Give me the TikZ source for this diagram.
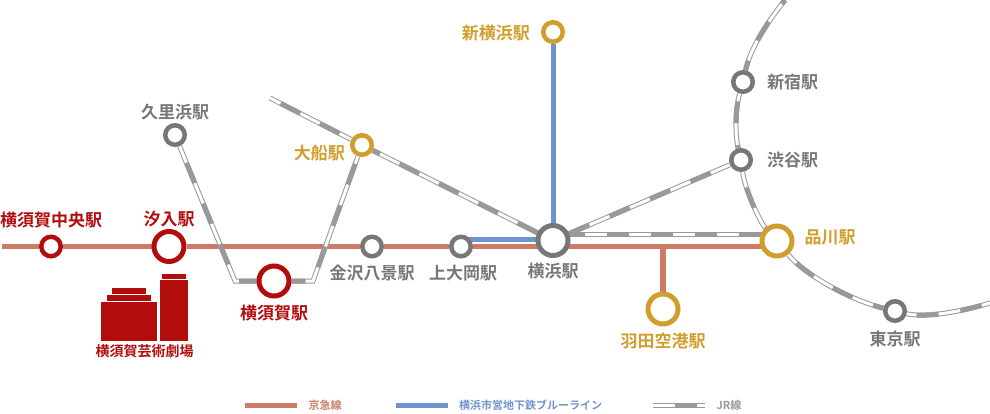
\documentclass[tikz,border=0pt]{standalone}
\usepackage{fontspec}
\setmainfont{Noto Sans CJK JP}[BoldFont={* Bold}]
\usepackage{xcolor}
\usetikzlibrary{positioning,backgrounds}
\definecolor{kqred}{HTML}{CC7B68}
\definecolor{subblue}{HTML}{7094CE}
\definecolor{jrgray}{HTML}{999999}
\definecolor{stred}{HTML}{B20C0C}
\definecolor{stgold}{HTML}{D19E2D}
\definecolor{stgray}{HTML}{777777}
\tikzset{
  stsmall/.style={circle, draw, fill=white, line width=4.5pt, inner sep=0pt, minimum size=19.5pt},
  stbig/.style={circle, draw, fill=white, line width=5pt, inner sep=0pt, minimum size=30pt},
  stname/.style={font=\fontsize{17}{18}\selectfont\bfseries, inner sep=0pt, node distance=8pt},
  legname/.style={font=\fontsize{11}{12}\selectfont\bfseries, inner sep=0pt},
  kqline/.style={draw=kqred, line width=5.5pt},
  blueline/.style={draw=subblue, line width=5pt},
  jrline/.style={preaction={draw=jrgray, solid, line width=5pt}, preaction={draw=white, solid, line width=3pt},
    draw=jrgray, line width=5pt, dash pattern=on 22pt off 22pt, dash phase=#1},
  jrline/.default=22pt,
  block/.style={fill=stred, draw=none},
}
\begin{document}
\begin{tikzpicture}[x=1pt, y=-1pt]
\useasboundingbox (0,0) rectangle (990,413);
% stations
\node[stsmall, draw=stred] (chuo) at (51,246.5) {};
\node[stbig, draw=stred] (shioiri) at (169,246.5) {};
\node[stbig, draw=stred] (yokosuka) at (274,281) {};
\node[stsmall, draw=stgray] (kanazawa) at (372,246.5) {};
\node[stsmall, draw=stgray] (kamiooka) at (461,246.5) {};
\node[stbig, draw=stgray] (yokohama) at (553,240.5) {};
\node[stbig, draw=stgold] (shinagawa) at (777,241) {};
\node[stbig, draw=stgold] (haneda) at (663,309) {};
\node[stsmall, draw=stgold] (shinyoko) at (553,32) {};
\node[stsmall, draw=stgold] (ofuna) at (362,145) {};
\node[stsmall, draw=stgray] (kurihama) at (175,135) {};
\node[stsmall, draw=stgray] (shinjuku) at (743,82) {};
\node[stsmall, draw=stgray] (shibuya) at (741,160) {};
\node[stsmall, draw=stgray] (tokyo) at (895,311) {};
% labels
\node[stname, stred, above=of chuo, yshift=-2pt] (chuoname) {横須賀中央駅};
\node[stname, stred, above=of shioiri, yshift=-6pt] (shioiriname) {汐入駅};
\node[stname, stred, below=of yokosuka, yshift=2pt] (yokosukaname) {横須賀駅};
\node[stname, stgray, below=of kanazawa, yshift=2pt] (kanazawaname) {金沢八景駅};
\node[stname, stgray, below=of kamiooka, xshift=2pt, yshift=2pt] (kamiookaname) {上大岡駅};
\node[stname, stgray, below=of yokohama, yshift=3pt] (yokohamaname) {横浜駅};
\node[stname, stgold, below=of haneda, yshift=2pt] (hanedaname) {羽田空港駅};
\node[stname, stgold, right=of shinagawa, xshift=2pt, yshift=4pt] (shinagawaname) {品川駅};
\node[stname, stgray, below=of tokyo, yshift=0pt] (tokyoname) {東京駅};
\node[stname, stgray, right=of shibuya, xshift=6pt] (shibuyaname) {渋谷駅};
\node[stname, stgray, right=of shinjuku, xshift=4pt] (shinjukuname) {新宿駅};
\node[stname, stgold, left=of shinyoko, xshift=-3pt, yshift=-1pt] (shinyokoname) {新横浜駅};
\node[stname, stgold, left=of ofuna, xshift=3pt, yshift=-8pt] (ofunaname) {大船駅};
\node[stname, stgray, above=of kurihama, yshift=-5pt] (kurihamaname) {久里浜駅};
% free ends and corners
\coordinate (kqstart) at (2,246.5);
\coordinate (kqmid) at (553,246.5);
\coordinate (kqend) at (765,246.5);
\coordinate (kqbranch) at (663,246.5);
\coordinate (bluestart) at (461,239);
\coordinate (blueend) at (540,239);
\coordinate (jrA) at (565,234);
\coordinate (jrB) at (765,234);
\coordinate (cornerL) at (235,281);
\coordinate (cornerR) at (313,281);
\coordinate (tokaido) at (270,98);
\coordinate (yamatop) at (785,0);
\coordinate (yamaend) at (990,303);
% lines
\begin{scope}[on background layer]
\draw[kqline] (kqstart) -- (chuo) -- (shioiri) -- (kanazawa) -- (kamiooka) -- (kqmid) -- (kqend);
\draw[kqline] (kqbranch) -- (haneda);
\draw[blueline] (shinyoko) -- (yokohama);
\draw[blueline] (bluestart) -- (blueend);
\draw[jrline=26pt] (kurihama) -- (cornerL) -- (yokosuka);
\draw[jrline=36pt] (ofuna) -- (cornerR) -- (yokosuka);
\draw[jrline=32pt] (tokaido) -- (ofuna);
\draw[jrline=14pt] (ofuna) -- (yokohama);
\draw[jrline=0pt] (yokohama) -- (shibuya);
\draw[jrline=2pt] (jrA) -- (jrB);
\draw[jrline=12pt] (shinjuku) .. controls (750,50) and (765,25) .. (yamatop);
\draw[jrline=36pt] (shinjuku) .. controls (735,110) and (735,135) .. (shibuya);
\draw[jrline=28pt] (shibuya) .. controls (745,190) and (760,222) .. (shinagawa);
\draw[jrline=32pt] (shinagawa) .. controls (805,275) and (850,300) .. (tokyo);
\draw[jrline=34pt] (tokyo) .. controls (925,318) and (960,312) .. (yamaend);
\end{scope}
% theatre
\fill[block] (101,302) rectangle (157,341);
\fill[block] (107,295) rectangle (151,300.6);
\fill[block] (112,288) rectangle (146,293.5);
\fill[block] (160,279.5) rectangle (188,341);
\fill[block] (162,274) rectangle (186,278.5);
\node[stname, stred, font=\fontsize{14}{15}\selectfont\bfseries] (theatre) at (144.5,351) {横須賀芸術劇場};
% legend
\node[legname, kqred] (kqname) at (325,405.5) {京急線};
\node[legname, subblue] (bluename) at (530.5,405.5) {横浜市営地下鉄ブルーライン};
\node[legname, jrgray] (jrname) at (729,405.5) {JR線};
\coordinate (kqa) at (245,405.5);
\coordinate (kqb) at (297,405.5);
\coordinate (bluea) at (396,405.5);
\coordinate (blueb) at (448,405.5);
\coordinate (jra) at (653,405.5);
\coordinate (jrb) at (705,405.5);
\draw[kqline] (kqa) -- (kqb);
\draw[blueline] (bluea) -- (blueb);
\draw[jrline] (jra) -- (jrb);
\end{tikzpicture}
\end{document}
